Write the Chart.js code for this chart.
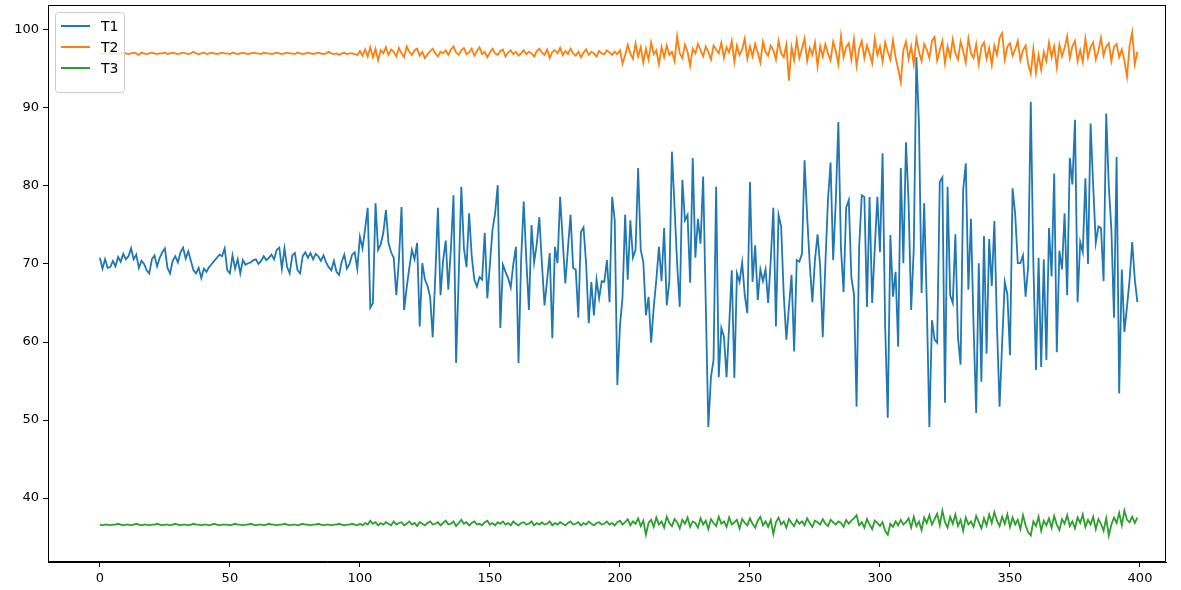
<!DOCTYPE html>
<html>
<head>
<meta charset="utf-8">
<script src="https://cdn.jsdelivr.net/npm/chart.js@4"></script>
<style>
  body { margin: 0; background: #fff; }
  canvas { display: block; }
</style>
</head>
<body>
<canvas id="grafica" width="1181" height="590"></canvas>
<script>
const seriesNames = ['T1', 'T2', 'T3'];
const colors = ['#1f77b4', '#ff7f0e', '#2ca02c'];
const xTicks = [0, 50, 100, 150, 200, 250, 300, 350, 400];
const yTicks = [40, 50, 60, 70, 80, 90, 100];

const t1 = [
  70.8, 69.4, 70.6, 69.5, 69.6, 70.4, 69.7, 70.9, 70.3, 71.3,
  70.6, 71.0, 72.0, 70.6, 71.2, 69.5, 70.4, 70.0, 69.2, 68.8,
  70.6, 71.1, 69.7, 70.8, 71.5, 72.0, 69.5, 68.8, 70.4, 71.0,
  70.2, 71.5, 72.1, 70.7, 71.6, 70.4, 69.2, 68.8, 69.5, 68.2,
  69.4, 69.0, 69.6, 70.0, 70.4, 70.8, 71.2, 71.0, 72.0, 69.2,
  68.8, 71.1, 69.4, 70.6, 68.8, 70.5, 69.9, 70.1, 70.2, 70.5,
  70.6, 70.0, 70.4, 71.0, 70.5, 70.8, 71.2, 70.6, 71.8, 72.1,
  69.4, 72.0, 69.6, 68.8, 71.1, 71.4, 69.2, 68.8, 71.0, 71.5,
  70.8, 71.4, 70.6, 71.3, 71.0, 70.4, 71.1, 70.2, 69.6, 69.2,
  70.4, 69.0, 68.6, 70.3, 71.2, 69.4, 70.0, 71.2, 71.5, 69.4,
  73.5, 72.0, 74.5, 77.2, 64.4, 65.0, 77.8, 71.8, 72.5, 74.0,
  76.9, 72.7, 71.5, 70.8, 66.0, 70.5, 77.3, 64.1, 67.0, 69.5,
  71.8, 70.6, 72.7, 62.0, 70.1, 68.0, 67.2, 65.8, 60.6, 68.5,
  77.2, 66.0, 70.5, 73.0, 66.7, 72.0, 78.8, 57.3, 68.5, 79.9,
  72.0, 69.6, 76.5, 71.0, 68.0, 67.1, 68.3, 68.0, 74.0, 65.6,
  70.0, 74.4, 76.5, 80.1, 61.8, 69.9, 69.0, 68.2, 67.0, 70.0,
  72.2, 57.3, 70.5, 78.0, 70.5, 64.1, 75.0, 70.2, 72.5, 76.0,
  70.0, 64.7, 68.0, 71.4, 60.5, 72.2, 70.1, 78.6, 73.0, 67.5,
  72.0, 76.3, 69.5, 69.3, 63.1, 74.1, 74.7, 70.0, 62.4, 67.7,
  63.4, 68.0, 65.6, 67.8, 67.7, 70.5, 65.1, 78.6, 75.6, 54.5,
  62.0, 65.8, 76.3, 68.0, 75.6, 70.8, 71.8, 82.3, 71.8, 70.2,
  63.4, 65.8, 59.9, 64.5, 68.0, 72.2, 67.8, 74.6, 64.7, 67.8,
  84.4, 77.3, 70.0, 64.5, 80.8, 75.6, 76.3, 67.6, 83.6, 70.8,
  75.8, 72.6, 81.2, 65.0, 49.1, 55.5, 57.7, 79.9, 55.5, 61.8,
  60.7, 55.5, 62.0, 69.2, 55.4, 68.8, 67.7, 70.2, 66.0, 63.7,
  80.5, 67.7, 72.4, 65.4, 69.3, 67.8, 69.3, 65.0, 70.5, 77.2,
  62.0, 76.3, 74.8, 66.0, 60.3, 64.5, 68.6, 58.8, 70.5, 70.3,
  71.3, 83.3, 76.1, 70.0, 65.1, 70.5, 73.8, 69.7, 60.6, 70.0,
  78.2, 83.0, 70.5, 78.0, 88.2, 72.0, 66.4, 77.2, 78.2, 68.3,
  66.1, 51.7, 72.2, 78.8, 78.6, 64.5, 78.6, 65.0, 72.0, 78.6,
  71.5, 84.2, 62.0, 50.3, 73.7, 65.8, 69.0, 59.4, 82.3, 70.1,
  85.6, 78.0, 64.1, 72.0, 96.5, 88.0, 66.3, 77.8, 65.0, 49.1,
  62.8, 60.3, 59.9, 80.5, 81.1, 52.2, 79.9, 66.0, 65.0, 73.8,
  60.6, 57.1, 79.5, 82.9, 66.7, 75.8, 62.0, 50.9, 70.1, 54.9,
  73.6, 58.5, 73.2, 67.2, 75.5, 62.0, 51.7, 60.0, 67.7, 66.1,
  58.3, 79.7, 76.4, 70.1, 70.1, 71.1, 65.8, 69.7, 90.8, 70.0,
  56.4, 70.8, 56.8, 70.6, 57.7, 74.6, 68.4, 81.6, 58.7, 71.7,
  69.3, 76.5, 66.0, 83.6, 80.2, 88.5, 65.1, 72.8, 71.5, 81.0,
  70.0, 88.0, 80.0, 72.7, 74.8, 74.6, 67.8, 89.3, 80.0, 74.4,
  63.1, 83.7, 53.4, 69.3, 61.3, 64.5, 68.0, 72.8, 68.0, 65.1
];

const t2 = [
  97.0, 96.9, 97.1, 97.0, 96.9, 97.0, 97.1, 96.9, 97.0, 97.1,
  97.0, 96.9, 97.0, 97.1, 97.0, 96.8, 97.1, 97.0, 96.9, 97.0,
  97.1, 97.0, 96.9, 97.0, 97.0, 97.1, 96.9, 97.0, 97.1, 97.0,
  96.9, 97.0, 97.1, 97.0, 96.9, 97.0, 97.2, 97.0, 96.9, 97.0,
  97.1, 96.9, 97.0, 97.1, 97.0, 96.9, 97.0, 97.1, 97.0, 97.0,
  96.9, 97.1, 97.0, 96.9, 97.0, 97.1, 97.0, 96.9, 97.0, 97.1,
  97.0, 97.0, 96.9, 97.1, 97.0, 97.0, 96.9, 97.0, 97.1, 97.0,
  96.9, 97.0, 97.1, 97.0, 97.0, 96.9, 97.1, 97.0, 96.9, 97.0,
  97.1, 97.0, 96.9, 97.0, 97.1, 97.0, 96.9, 97.0, 97.2, 97.0,
  96.9, 97.0, 96.8, 97.0, 97.1, 96.9, 97.0, 97.0, 96.9, 96.8,
  97.3, 96.7, 97.5, 96.6, 97.8, 96.5, 97.6, 96.1, 97.4, 97.0,
  97.8, 96.8, 97.5, 97.2, 96.6, 97.7, 97.0, 96.5, 97.9, 97.2,
  96.8, 97.4, 97.6, 96.7, 97.2, 96.4, 96.9, 97.3, 97.6, 97.0,
  96.6, 97.2, 97.0, 97.4, 96.8, 97.5, 97.9, 97.1, 96.8, 97.4,
  97.7, 96.9, 97.1, 97.6, 96.7, 97.3, 97.8, 96.9, 97.2, 96.5,
  97.1, 97.6, 97.0, 96.8, 97.3, 97.5, 96.6, 97.1, 97.4, 96.9,
  97.2, 96.7, 97.0, 97.4, 96.9, 97.2, 97.0, 96.6, 97.3, 97.6,
  97.1, 96.8, 97.5, 96.4, 97.2, 97.4, 97.0, 97.7, 96.8, 97.3,
  96.9, 97.6, 97.0, 96.7, 97.2, 96.5, 97.1, 97.5, 96.8, 97.2,
  97.0, 96.6, 97.3, 97.0, 96.9, 97.4, 97.1, 96.8, 97.2, 96.9,
  97.4, 95.7, 96.8, 98.1, 97.0, 96.3, 98.3, 96.6, 97.8, 95.8,
  97.6, 96.2, 98.4, 96.9, 97.4, 95.6, 97.8, 96.5, 98.0, 96.8,
  97.2, 96.0, 99.2, 97.0, 96.4, 98.1, 97.2, 95.4, 97.6, 97.0,
  98.2, 97.4, 96.6, 97.9, 97.2, 96.2, 98.0, 97.5, 97.0, 98.4,
  96.4, 97.8, 97.1, 98.6, 95.9, 98.0, 96.8, 97.5, 98.9, 96.3,
  97.9, 96.6, 98.2, 97.1, 95.8, 98.5, 97.2, 96.7, 98.0, 97.4,
  96.2, 98.6, 97.0, 96.5, 98.1, 93.5, 97.8, 96.1, 98.7, 96.4,
  97.6, 98.9, 96.0, 97.7, 96.8, 98.4, 95.3, 97.9, 96.6, 98.2,
  97.0, 96.1, 98.5, 97.3, 95.6, 99.2, 96.5, 97.8, 98.3, 96.2,
  98.8, 95.4, 97.6, 98.6, 96.4, 98.0, 97.0, 95.7, 98.9, 96.8,
  97.9, 95.9, 98.4, 97.2, 96.2, 98.7, 96.5, 95.0, 93.3, 97.4,
  98.5, 96.3, 97.9, 95.6, 98.9, 97.2, 96.0, 98.2, 97.5, 96.4,
  98.6, 99.1, 96.1, 97.4, 98.6, 95.7, 97.9, 96.5, 98.8, 97.0,
  96.2, 98.5, 97.3, 95.8, 98.9, 97.0, 96.4, 98.2, 95.6, 97.8,
  98.4, 96.3, 97.7, 95.5, 98.0, 96.8, 99.0, 99.6, 96.2, 97.9,
  98.3, 96.7, 97.5, 98.6, 96.1, 97.4, 98.0, 95.6, 94.4, 97.6,
  94.5, 96.8, 94.9, 97.2, 96.0, 98.4, 96.5, 97.9, 95.2, 98.1,
  96.6, 97.7, 99.2, 96.4, 97.9, 98.6, 96.0, 97.4, 95.9, 98.9,
  96.5, 97.8, 98.4, 96.2, 97.3, 99.0, 96.7, 97.9, 98.3, 96.0,
  97.8, 98.2, 96.5, 97.5, 96.1, 94.0, 98.0, 99.7, 95.6, 97.2
];

const t3 = [
  36.6, 36.5, 36.6, 36.6, 36.5, 36.6, 36.6, 36.7, 36.6, 36.5,
  36.6, 36.6, 36.5, 36.6, 36.7, 36.6, 36.5, 36.6, 36.6, 36.5,
  36.6, 36.6, 36.7, 36.6, 36.5, 36.6, 36.6, 36.5, 36.6, 36.7,
  36.6, 36.5, 36.6, 36.6, 36.5, 36.6, 36.7, 36.6, 36.6, 36.5,
  36.6, 36.6, 36.5, 36.6, 36.7, 36.6, 36.5, 36.6, 36.6, 36.6,
  36.5, 36.6, 36.7, 36.6, 36.6, 36.5, 36.6, 36.6, 36.7, 36.6,
  36.5, 36.6, 36.6, 36.5, 36.6, 36.7, 36.6, 36.6, 36.5, 36.6,
  36.6, 36.7, 36.6, 36.5, 36.6, 36.6, 36.5, 36.6, 36.7, 36.6,
  36.6, 36.5, 36.6, 36.6, 36.7, 36.6, 36.5, 36.6, 36.6, 36.5,
  36.6, 36.6, 36.7, 36.6, 36.5, 36.6, 36.6, 36.7, 36.6, 36.5,
  36.7, 36.5, 36.8, 36.6, 37.1, 36.7, 36.9, 36.5, 36.8, 36.6,
  36.9, 36.7, 36.5, 37.0, 36.6, 36.8, 36.9, 36.5, 36.7, 37.0,
  36.6, 36.8, 36.4, 36.9, 36.7, 36.5, 36.8, 37.0, 36.6, 36.7,
  36.9, 36.5, 36.8, 37.1, 36.6, 36.7, 37.0, 36.4, 36.8, 37.2,
  36.7, 36.9, 36.5, 36.8, 37.0, 36.6, 36.7, 36.5, 36.9, 37.1,
  36.6, 36.8, 36.5, 36.9, 36.7, 37.0, 36.6, 36.8, 36.5, 37.0,
  36.7, 36.5, 36.8, 36.9, 36.6, 36.7, 37.0, 36.5, 36.8, 36.6,
  36.9, 36.6, 36.7, 37.0, 36.5, 36.8, 36.6, 36.9, 36.7, 36.5,
  36.8, 37.0, 36.6, 36.7, 36.9, 36.5, 36.8, 36.6, 37.0, 36.7,
  36.5, 36.8, 36.9, 36.6, 36.7, 37.0, 36.6, 36.8, 36.5, 36.9,
  37.1, 36.6, 36.9, 37.3, 36.5, 37.0, 36.7, 37.4, 36.4, 37.1,
  35.3, 36.8, 37.2, 36.3, 37.5, 36.6, 37.0, 36.2, 37.6, 36.8,
  36.4, 37.3, 36.9, 36.1, 37.2, 36.7, 37.5, 36.3, 37.0, 36.8,
  36.2, 37.4, 36.6, 37.1, 36.0, 37.3, 36.8, 36.4, 37.6, 36.7,
  37.0, 36.3, 37.5, 36.6, 36.9, 37.2, 36.1, 37.3, 36.8, 36.5,
  37.4, 36.7, 36.2, 37.1, 37.6, 36.5, 37.0, 36.3, 37.2, 35.4,
  36.9, 37.5, 36.6, 37.0, 36.2, 37.3, 36.8, 36.4, 37.2, 36.7,
  37.0, 36.5, 37.4, 36.8, 36.3, 37.1, 36.9, 36.6, 37.3, 36.7,
  36.4, 37.2, 36.9, 36.6, 37.0, 36.8, 36.3, 37.2, 36.7, 37.1,
  37.4, 37.8, 36.5, 36.9, 36.2, 37.3, 36.6, 36.0, 37.1, 36.8,
  36.4, 36.9, 35.8, 35.3, 36.7, 36.3, 37.0, 36.5, 37.2, 36.6,
  36.9, 37.4, 36.2, 37.6, 36.4, 37.0, 35.9, 37.5, 36.8, 37.8,
  36.6, 37.3, 38.0, 36.5, 38.4, 36.9, 36.2, 37.6, 36.7, 37.9,
  36.4, 37.2, 35.8, 37.5, 36.6, 37.0, 36.3, 37.7, 36.9, 36.1,
  37.4, 36.5, 37.9, 36.8, 38.2, 37.1, 36.4, 37.6, 36.7, 37.9,
  36.3, 37.5, 36.6, 37.2, 36.0, 37.8, 36.5, 35.6, 35.2, 37.0,
  36.4, 37.6, 35.8, 37.1, 36.5, 37.4, 36.2, 37.7, 36.6, 35.9,
  37.3, 36.7, 37.8, 36.4, 37.0, 36.1, 37.5, 36.8, 37.9, 36.3,
  37.2, 36.6, 37.6, 36.0, 37.3, 36.7, 35.8, 37.4, 35.2, 36.6,
  37.5, 36.8, 38.1, 36.5, 38.4, 37.2, 36.9, 37.6, 36.8, 37.5
];

const allSeries = [t1, t2, t3];
const FONT = 'DejaVu Sans';

// marco completo alrededor del area de la grafica (como matplotlib)
const framePlugin = {
  id: 'frame',
  afterDatasetsDraw(chart) {
    const { ctx, chartArea: a } = chart;
    ctx.save();
    ctx.strokeStyle = '#000';
    ctx.lineWidth = 1;
    ctx.strokeRect(Math.round(a.left) + 0.5, Math.round(a.top) + 0.5,
      Math.round(a.right - a.left) - 1, Math.round(a.bottom - a.top) - 1);
    ctx.restore();
  }
};

// leyenda dentro de la grafica, arriba a la izquierda
const legendPlugin = {
  id: 'innerLegend',
  afterDraw(chart) {
    const { ctx, chartArea: a } = chart;
    const ds = chart.data.datasets;
    const x0 = a.left + 7, y0 = a.top + 7;
    const rowH = 21, w = 69, h = 12 + rowH * (ds.length - 1) + 14 + 12;
    ctx.save();
    ctx.fillStyle = 'rgba(255,255,255,0.8)';
    ctx.strokeStyle = '#cccccc';
    ctx.lineWidth = 1;
    ctx.beginPath();
    ctx.roundRect(x0 + 0.5, y0 + 0.5, w, h, 3);
    ctx.fill();
    ctx.stroke();
    ctx.font = '14px ' + FONT;
    ctx.textBaseline = 'middle';
    ds.forEach((d, i) => {
      const y = y0 + 14 + i * rowH;
      ctx.strokeStyle = d.borderColor;
      ctx.lineWidth = 2;
      ctx.beginPath();
      ctx.moveTo(x0 + 6, y);
      ctx.lineTo(x0 + 35, y);
      ctx.stroke();
      ctx.fillStyle = '#000';
      ctx.fillText(d.label, x0 + 46, y + 1);
    });
    ctx.restore();
  }
};

const ctx = document.getElementById('grafica').getContext('2d');
new Chart(ctx, {
  type: 'line',
  data: {
    datasets: allSeries.map((s, k) => ({
      label: seriesNames[k],
      data: s.map((v, i) => ({ x: i, y: v })),
      borderColor: colors[k],
      backgroundColor: colors[k],
      borderWidth: 1.8,
      pointRadius: 0,
      tension: 0,
      fill: false
    }))
  },
  options: {
    responsive: false,
    animation: false,
    layout: { padding: { top: 5, right: 15, left: 0, bottom: 0 } },
    plugins: {
      legend: { display: false },
      tooltip: { enabled: false }
    },
    scales: {
      x: {
        type: 'linear',
        min: -19.95,
        max: 410,
        afterBuildTicks: s => { s.ticks = xTicks.map(v => ({ value: v })); },
        afterFit: s => { s.height = 28; s.paddingLeft = 0; s.paddingRight = 0; },
        grid: { drawOnChartArea: false, drawTicks: true, tickLength: 5, color: '#000' },
        border: { display: true, color: '#000' },
        ticks: { color: '#000', font: { family: FONT, size: 13 }, padding: 4, maxRotation: 0 }
      },
      y: {
        min: 31.8,
        max: 103.2,
        afterBuildTicks: s => { s.ticks = yTicks.map(v => ({ value: v })); },
        afterFit: s => { s.width = 48; s.paddingTop = 0; s.paddingBottom = 0; },
        grid: { drawOnChartArea: false, drawTicks: true, tickLength: 5, color: '#000' },
        border: { display: true, color: '#000' },
        ticks: { color: '#000', font: { family: FONT, size: 13 }, padding: 4 }
      }
    }
  },
  plugins: [framePlugin, legendPlugin]
});
</script>
</body>
</html>
